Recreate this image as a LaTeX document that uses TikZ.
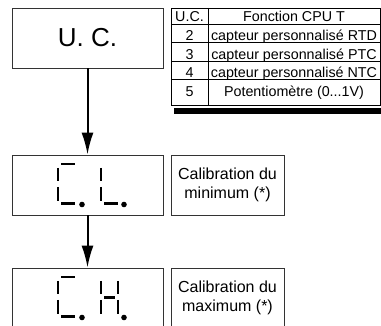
\documentclass[tikz,border=0pt]{standalone}
\usepackage{fontspec}
\setmainfont{Liberation Sans}
\usetikzlibrary{arrows.meta}
\begin{document}
\begin{tikzpicture}
		% flow of the U.C. menu with the table of CPU T functions
		[x=1pt,y=-1pt,
		 box/.style={draw=black!80,line width=0.8pt,minimum width=151pt,minimum height=60pt,inner sep=0pt},
		 note/.style={draw=black!80,line width=0.8pt,minimum width=113pt,minimum height=60pt,inner sep=0pt,align=center,font=\fontsize{16}{18.5}\selectfont},
		 cell/.style={anchor=base,inner sep=0pt,font=\fontsize{14.3}{16}\selectfont},
		 seg/.style={line width=2.6pt},
		 >={Latex[length=22pt,width=12pt]}]
		\useasboundingbox (0,0) rectangle (381,326);
		\clip (0,0) rectangle (381,326);

		\node[box,font=\fontsize{26}{30}\selectfont] (uc) at (87.5,38) {U. C.};
		\node[box] (cl) at (87.5,185) {};
		\node[box] (ch) at (87.5,298) {};
		\node[note] (min) at (227.5,185) {Calibration du\\minimum (*)};
		\node[note] (max) at (227.5,298) {Calibration du\\maximum (*)};

		\draw[line width=2pt,->] (uc) -- (cl);
		\draw[line width=2pt,->] (cl) -- (ch);

		% table
		\fill (174,108.5) rectangle (381,114);
		\draw[fill=white,line width=0.8pt] (171,8) rectangle (380,105);
		\draw[line width=0.8pt] (208,8) -- (208,105);
		\draw[line width=0.8pt] (171,24) -- (380,24);
		\draw[line width=0.8pt] (171,42.5) -- (380,42.5);
		\draw[line width=0.8pt] (171,61) -- (380,61);
		\draw[line width=0.8pt] (171,79) -- (380,79);

		\node[cell] (uch) at (189.5,22) {U.C.};
		\node[cell] (fct) at (294,22) {Fonction CPU T};
		\node[cell] (n2) at (189.5,41) {2};
		\node[cell] (rtd) at (294,41) {capteur personnalisé RTD};
		\node[cell] (n3) at (189.5,59.5) {3};
		\node[cell] (ptc) at (294,59.5) {capteur personnalisé PTC};
		\node[cell] (n4) at (189.5,77.5) {4};
		\node[cell] (ntc) at (294,77.5) {capteur personnalisé NTC};
		\node[cell] (n5) at (189.5,96.5) {5};
		\node[cell] (pot) at (294,96.5) {Potentiomètre (0...1V)};

		% display C.L.
		\draw[seg] (61,164) -- (75,164);
		\draw[seg] (58,168) -- (58,181);
		\draw[seg] (58,187) -- (58,201);
		\draw[seg] (61,203.5) -- (75,203.5);
		\fill (82,204.5) circle[radius=2.8pt];
		\draw[seg] (101,168) -- (101,181);
		\draw[seg] (101,187) -- (101,201);
		\draw[seg] (104,203.5) -- (118,203.5);
		\fill (124,204.5) circle[radius=2.8pt];

		% display C.H.
		\draw[seg] (61,277) -- (75,277);
		\draw[seg] (58,281) -- (58,294);
		\draw[seg] (58,300) -- (58,314);
		\draw[seg] (61,316.5) -- (75,316.5);
		\fill (82,317.5) circle[radius=2.8pt];
		\draw[seg] (101,281) -- (101,294);
		\draw[seg] (101,300) -- (101,314);
		\draw[seg] (118,281) -- (118,294);
		\draw[seg] (118,300) -- (118,314);
		\draw[seg] (104,297.5) -- (115,297.5);
		\fill (124,317.5) circle[radius=2.8pt];
	\end{tikzpicture}
\end{document}
